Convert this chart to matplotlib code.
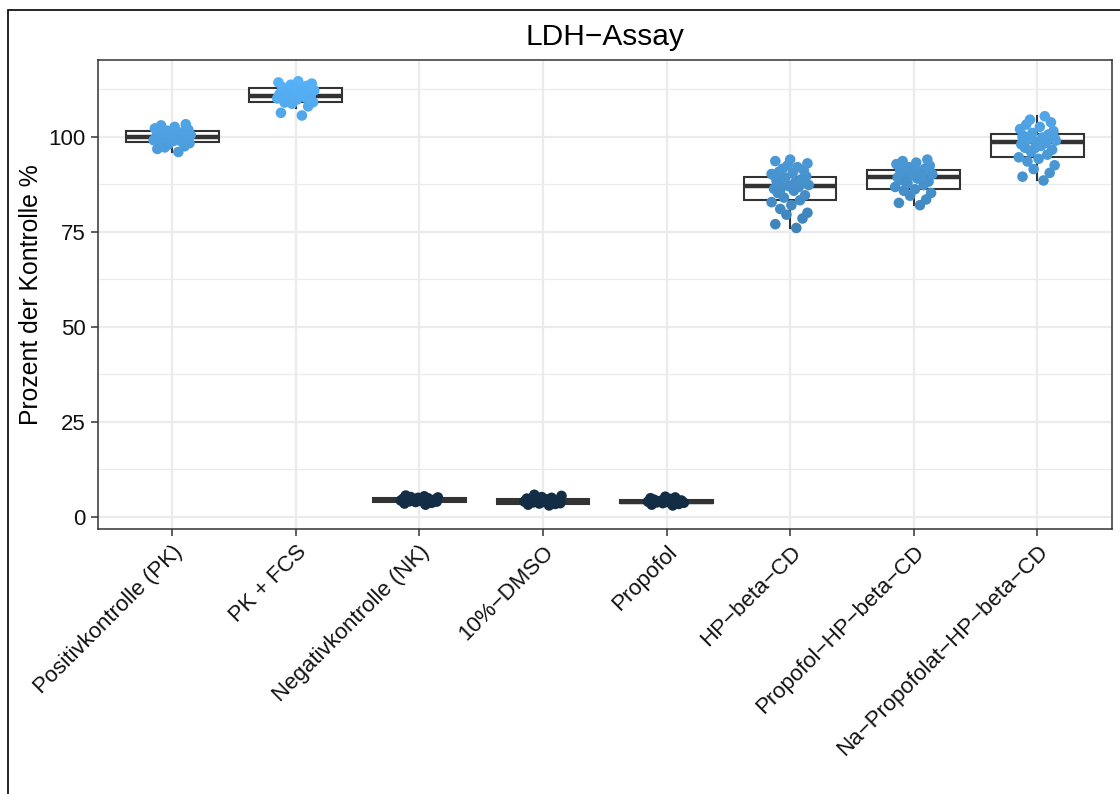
import numpy as np
import matplotlib
matplotlib.use("Agg")
import matplotlib.pyplot as plt
from matplotlib.colors import LinearSegmentedColormap
from matplotlib.patches import Rectangle

plt.rcParams['font.family'] = ['Liberation Sans', 'DejaVu Sans']

# categories (ggplot renders "-" as a minus sign)
labels = ["Positivkontrolle (PK)", "PK + FCS", "Negativkontrolle (NK)", "10%\u2212DMSO",
          "Propofol", "HP\u2212beta\u2212CD", "Propofol\u2212HP\u2212beta\u2212CD",
          "Na\u2212Propofolat\u2212HP\u2212beta\u2212CD"]

# box statistics
med = [99.9, 110.7, 4.5, 4.0, 4.0, 87.0, 89.3, 98.5]
q1 = [98.6, 109.1, 4.0, 3.5, 3.6, 83.3, 86.2, 94.6]
q3 = [101.5, 112.8, 5.0, 4.8, 4.5, 89.4, 91.2, 100.7]
wlo = [96.0, 107.5, 3.2, 3.0, 3.0, 76.0, 82.0, 88.5]
whi = [103.4, 114.8, 5.6, 5.8, 5.3, 94.0, 94.0, 105.4]

# individual measurements
pk = [96.0, 96.8, 97.5, 98.0, 98.3, 98.6, 98.9, 99.1, 99.3, 99.5, 99.7, 99.8, 99.9, 100.0, 100.1,
      100.3, 100.5, 100.7, 100.9, 101.1, 101.3, 101.6, 101.9, 102.2, 102.6, 103.0, 103.3, 97.2, 99.0, 100.4]
pk_fcs = [105.6, 106.3, 108.0, 108.7, 109.1, 109.5, 109.8, 110.1, 110.3, 110.5, 110.7, 110.9, 111.1, 111.3,
          111.6, 111.9, 112.2, 112.5, 112.8, 113.1, 113.4, 113.7, 114.0, 114.3, 114.6, 109.0, 110.0, 111.5, 112.0, 113.0]
nk = [3.2, 3.5, 3.7, 3.9, 4.0, 4.1, 4.2, 4.3, 4.4, 4.5, 4.5, 4.6, 4.7, 4.8, 4.9, 5.0, 5.1, 5.2, 5.4, 5.6]
dmso = [3.0, 3.2, 3.4, 3.5, 3.6, 3.8, 3.9, 4.0, 4.1, 4.2, 4.3, 4.4, 4.6, 4.8, 5.0, 5.2, 5.5, 5.8]
propofol = [3.0, 3.2, 3.4, 3.6, 3.7, 3.8, 3.9, 4.0, 4.1, 4.2, 4.3, 4.5, 4.7, 4.9, 5.1, 5.3]
hpcd = [76.0, 77.0, 78.5, 79.5, 80.0, 81.0, 82.0, 82.8, 83.3, 84.0, 84.6, 85.2, 85.8, 86.3, 86.8, 87.0,
        87.3, 87.7, 88.0, 88.4, 88.8, 89.2, 89.6, 90.0, 90.4, 90.8, 91.2, 91.6, 92.0, 92.5, 93.0, 93.6,
        94.0, 86.0, 88.5, 90.2]
prop_hpcd = [82.0, 82.6, 83.5, 84.5, 85.2, 85.8, 86.2, 86.8, 87.3, 87.8, 88.2, 88.6, 89.0, 89.3, 89.6,
             89.9, 90.2, 90.5, 90.8, 91.2, 91.6, 92.0, 92.4, 92.8, 93.2, 93.6, 94.0, 88.0, 90.0, 91.0]
na_prop = [88.5, 89.5, 90.5, 91.5, 92.5, 93.5, 94.2, 94.6, 95.3, 96.0, 96.6, 97.1, 97.6, 98.0, 98.4,
           98.7, 99.0, 99.4, 99.8, 100.2, 100.6, 101.0, 101.5, 102.0, 102.6, 103.2, 103.8, 104.5, 105.4,
           97.0, 99.6, 100.0, 98.2]
groups = [pk, pk_fcs, nk, dmso, propofol, hpcd, prop_hpcd, na_prop]

# fixed horizontal jitter offsets
jit = [0.05, -0.12, 0.10, -0.03, 0.14, -0.08, 0.01, -0.15, 0.08, -0.05, 0.12, -0.10, 0.03, -0.13,
       0.07, -0.01, 0.15, -0.07, 0.04, -0.11, 0.09, -0.04, 0.13, -0.14, 0.02, -0.09, 0.11, -0.06,
       0.06, -0.02, 0.14, -0.12, 0.00, -0.08, 0.10, -0.15, 0.05, -0.03, 0.12, -0.10]

cmap = LinearSegmentedColormap.from_list("gg", ["#132B43", "#56B1F7"])
allv = np.concatenate([np.array(g) for g in groups])
vmin, vmax = allv.min(), allv.max()

fig = plt.figure(figsize=(11.2, 7.94), dpi=100)
ax = fig.add_axes([98 / 1120, 1 - 529 / 794, (1111.5 - 98) / 1120, (529 - 60) / 794])

pos = np.arange(1, len(labels) + 1)
stats = [dict(med=med[i], q1=q1[i], q3=q3[i], whislo=wlo[i], whishi=whi[i], fliers=[])
         for i in range(len(labels))]
ax.bxp(stats, positions=pos, widths=0.75, showcaps=False, patch_artist=True,
       boxprops=dict(facecolor="white", edgecolor="#333333", linewidth=1.5),
       whiskerprops=dict(color="#333333", linewidth=1.5),
       medianprops=dict(color="#333333", linewidth=3.2), zorder=2)

for i, g in enumerate(groups):
    xs = pos[i] + np.array(jit[:len(g)])
    ax.scatter(xs, g, s=58, c=g, cmap=cmap, vmin=vmin, vmax=vmax, edgecolors="none", zorder=3)

ax.set_xlim(0.4, 8.6)
ax.set_ylim(-3.2, 120.2)
ax.set_yticks([0, 25, 50, 75, 100])
ax.set_yticks([12.5, 37.5, 62.5, 87.5, 112.5], minor=True)
ax.set_xticks(pos)
ax.set_xticklabels(labels, rotation=45, ha="right", va="top", rotation_mode="anchor")
ax.tick_params(axis="both", which="major", labelsize=16, colors="#333333", length=5, width=1.1,
               labelcolor="#111111", pad=4)
ax.tick_params(axis="y", which="minor", length=0)
ax.grid(True, which="major", color="#EBEBEB", linewidth=1.6, zorder=0)
ax.grid(True, which="minor", axis="y", color="#EBEBEB", linewidth=0.9, zorder=0)
ax.set_axisbelow(True)
for sp in ax.spines.values():
    sp.set_color("#333333")
    sp.set_linewidth(1.1)

ax.set_ylabel("Prozent der Kontrolle %", fontsize=17.8, labelpad=4)
ax.set_title("LDH\u2212Assay", fontsize=21.5, pad=11)

fig.add_artist(Rectangle((8 / 1120, -0.1), 1.2, (794 - 10) / 794 + 0.1, transform=fig.transFigure,
                         fill=False, edgecolor="black", linewidth=1.2))

fig.savefig("out.png", dpi=100)
